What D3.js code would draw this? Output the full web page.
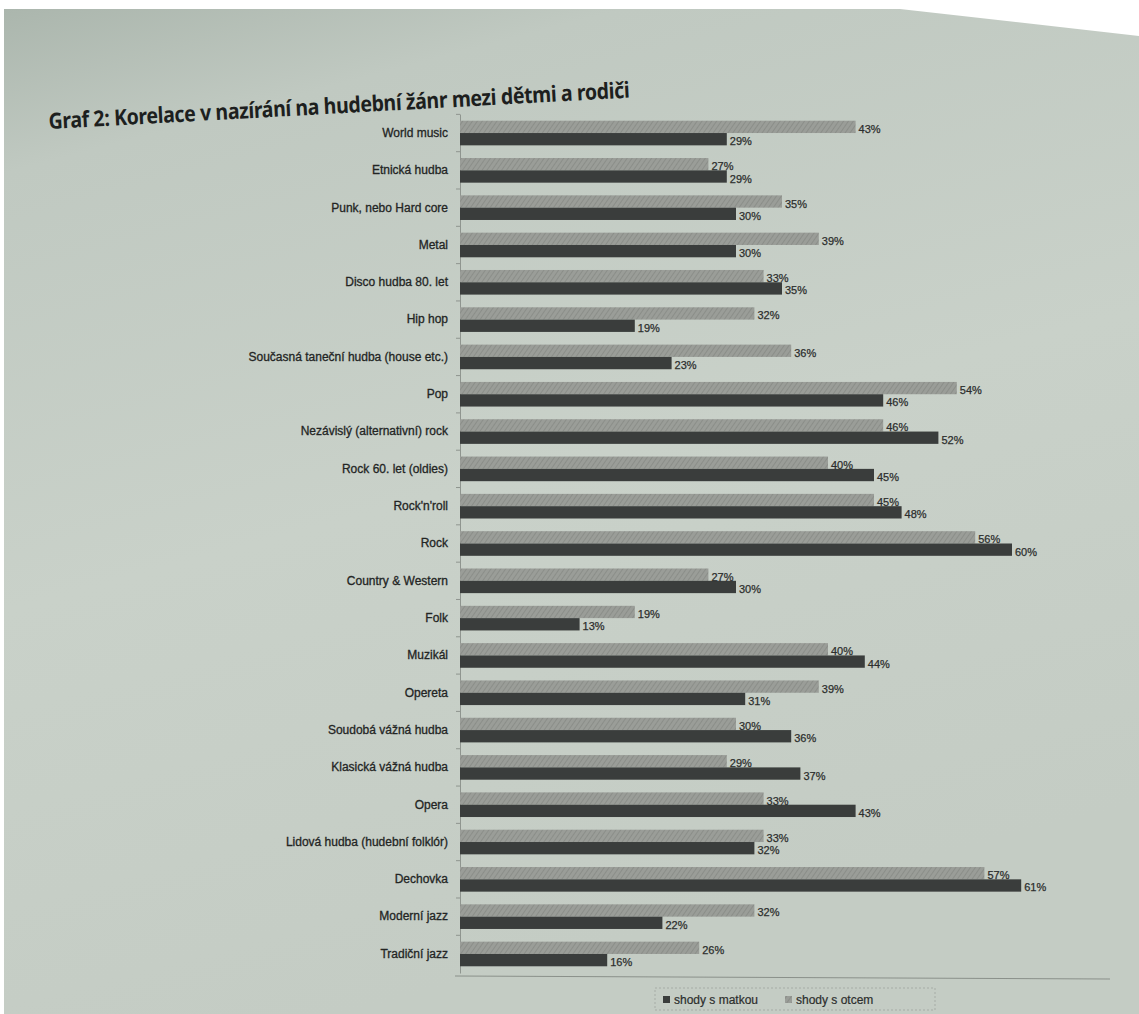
<!DOCTYPE html>
<html>
<head>
<meta charset="utf-8">
<script src="https://cdn.jsdelivr.net/npm/d3@7"></script>
<style>
  html, body { margin: 0; padding: 0; background: #ffffff; }
  svg { display: block; }
</style>
</head>
<body>
<svg id="chart" width="1139" height="1014"></svg>
<script>
// ---- data ----
const titleText = "Graf 2: Korelace v nazírání na hudební žánr mezi dětmi a rodiči";
const categories = [
  "World music", "Etnická hudba", "Punk, nebo Hard core", "Metal", "Disco hudba 80. let",
  "Hip hop", "Současná taneční hudba (house etc.)", "Pop", "Nezávislý (alternativní) rock",
  "Rock 60. let (oldies)", "Rock'n'roll", "Rock", "Country & Western", "Folk", "Muzikál",
  "Opereta", "Soudobá vážná hudba", "Klasická vážná hudba", "Opera",
  "Lidová hudba (hudební folklór)", "Dechovka", "Moderní jazz", "Tradiční jazz"
];
const shodyOtec  = [43, 27, 35, 39, 33, 32, 36, 54, 46, 40, 45, 56, 27, 19, 40, 39, 30, 29, 33, 33, 57, 32, 26];
const shodyMatka = [29, 29, 30, 30, 35, 19, 23, 46, 52, 45, 48, 60, 30, 13, 44, 31, 36, 37, 43, 32, 61, 22, 16];
const seriesNames = ["shody s matkou", "shody s otcem"];
const xDomain = [0, 70];

// ---- layout ----
const svg = d3.select("#chart");
const W = 1139, H = 1014;
const defs = svg.append("defs");

const bg = defs.append("linearGradient").attr("id", "paper")
  .attr("x1", 0).attr("y1", 0).attr("x2", 0.3).attr("y2", 1);
bg.append("stop").attr("offset", "0%").attr("stop-color", "#abb6ad");
bg.append("stop").attr("offset", "15%").attr("stop-color", "#c0c9c1");
bg.append("stop").attr("offset", "55%").attr("stop-color", "#c9d1c9");
bg.append("stop").attr("offset", "100%").attr("stop-color", "#c4ccc4");

const hatch = defs.append("pattern").attr("id", "hatch")
  .attr("patternUnits", "userSpaceOnUse").attr("width", 4).attr("height", 4)
  .attr("patternTransform", "rotate(35)");
hatch.append("rect").attr("width", 4).attr("height", 4).attr("fill", "#9a9d98");
hatch.append("line").attr("x1", 0).attr("y1", 0).attr("x2", 0).attr("y2", 4)
  .attr("stroke", "#858883").attr("stroke-width", 1.4);

// paper
svg.append("rect").attr("width", W).attr("height", H).attr("fill", "#ffffff");
svg.append("path")
  .attr("d", `M4,9 L900,9 L1139,36 L1139,${H} L4,${H} Z`)
  .attr("fill", "url(#paper)");

// title (slightly tilted as on the photographed page)
svg.append("text")
  .attr("transform", "translate(49,129) rotate(-3.1) scale(0.93,1.05)")
  .attr("font-family", "'Noto Sans', 'Open Sans', sans-serif")
  .attr("font-weight", "bold")
  .attr("font-size", 21)
  .attr("letter-spacing", -0.4)
  .attr("fill", "#1d1f1e")
  .text(titleText);

const x0 = 460;
const x = d3.scaleLinear().domain(xDomain).range([x0, x0 + 70 * 9.2]);
const y = d3.scaleBand().domain(categories).range([114, 973]).paddingInner(0.34).paddingOuter(0.18);

const barH = y.bandwidth() / 2;

// category axis
const axisG = svg.append("g")
  .attr("transform", `translate(${x0},0)`)
  .call(d3.axisLeft(y).tickSize(0).tickPadding(12));
axisG.select(".domain").attr("stroke", "#8f958f").attr("stroke-width", 1);
axisG.selectAll("text")
  .attr("font-family", "'Liberation Sans', Arial, sans-serif")
  .attr("font-size", 12)
  .attr("fill", "#232524")
  .attr("stroke", "#232524")
  .attr("stroke-width", 0.3);
// small tick marks between categories
svg.append("g").selectAll("line")
  .data(categories)
  .join("line")
  .attr("x1", x0 - 4).attr("x2", x0)
  .attr("y1", d => y(d) - y.step() * y.paddingInner() / 2)
  .attr("y2", d => y(d) - y.step() * y.paddingInner() / 2)
  .attr("stroke", "#8f958f");

const rows = categories.map((c, i) => ({ c, otec: shodyOtec[i], matka: shodyMatka[i] }));

// father bars (light, hatched) on top
svg.append("g").selectAll("rect")
  .data(rows).join("rect")
  .attr("x", x(0))
  .attr("y", d => y(d.c))
  .attr("width", d => x(d.otec) - x(0))
  .attr("height", barH)
  .attr("fill", "url(#hatch)");

// mother bars (dark) below
svg.append("g").selectAll("rect")
  .data(rows).join("rect")
  .attr("x", x(0))
  .attr("y", d => y(d.c) + barH)
  .attr("width", d => x(d.matka) - x(0))
  .attr("height", barH)
  .attr("fill", "#3a3d3c");

// value labels
const lab = svg.append("g")
  .attr("font-family", "'Liberation Sans', Arial, sans-serif")
  .attr("font-size", 11)
  .attr("fill", "#2c2e2d")
  .attr("stroke", "#2c2e2d")
  .attr("stroke-width", 0.25);
lab.selectAll("text.o")
  .data(rows).join("text").attr("class", "o")
  .attr("x", d => x(d.otec) + 3)
  .attr("y", d => y(d.c) + barH / 2 + 6)
  .text(d => d.otec + "%");
lab.selectAll("text.m")
  .data(rows).join("text").attr("class", "m")
  .attr("x", d => x(d.matka) + 3)
  .attr("y", d => y(d.c) + barH * 1.5 + 6)
  .text(d => d.matka + "%");

// frame line under the chart
svg.append("line")
  .attr("x1", 455).attr("x2", 1110).attr("y1", 976).attr("y2", 979)
  .attr("stroke", "#8a908a").attr("stroke-width", 1);

// legend
const lg = svg.append("g").attr("transform", "translate(655,988)");
lg.append("rect").attr("x", 0).attr("y", 0).attr("width", 280).attr("height", 22)
  .attr("fill", "none").attr("stroke", "#a6aca6").attr("stroke-dasharray", "2,2");
const legendFills = ["#3a3d3c", "url(#hatch)"];
const legX = [8, 130];
seriesNames.forEach((name, i) => {
  lg.append("rect").attr("x", legX[i]).attr("y", 8).attr("width", 7).attr("height", 7)
    .attr("fill", legendFills[i]);
  lg.append("text").attr("x", legX[i] + 11).attr("y", 16)
    .attr("font-family", "'Liberation Sans', Arial, sans-serif")
    .attr("font-size", 12).attr("fill", "#2c2e2d")
    .attr("stroke", "#2c2e2d").attr("stroke-width", 0.2)
    .text(name);
});
</script>
</body>
</html>
